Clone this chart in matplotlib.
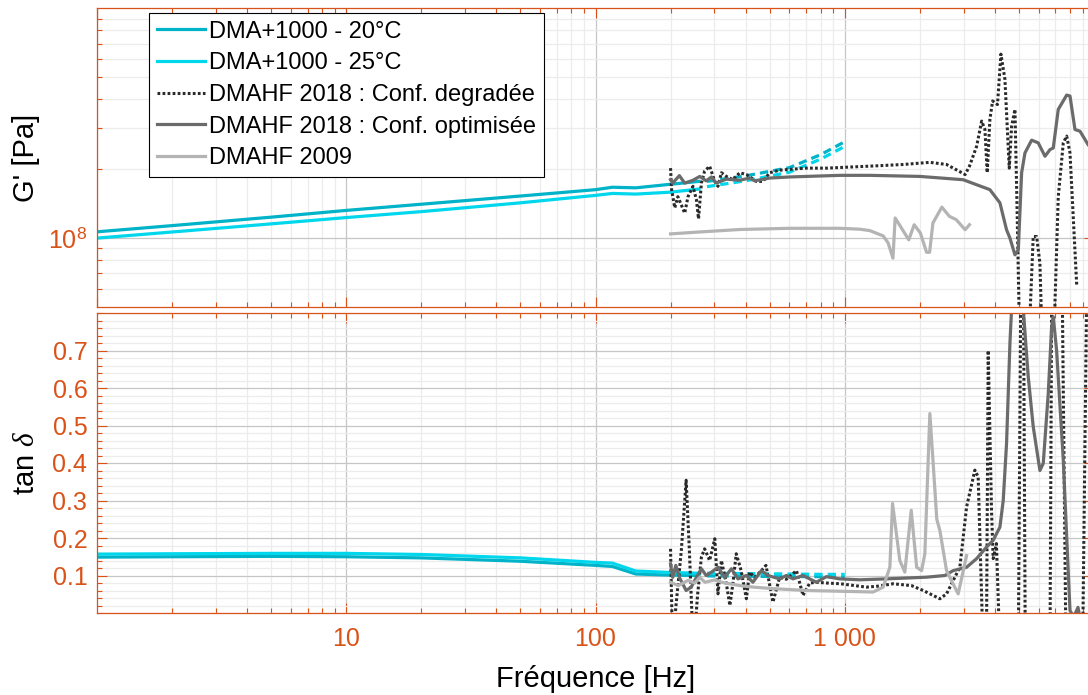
import numpy as np
import matplotlib
matplotlib.use("Agg")
import matplotlib.pyplot as plt
from matplotlib.ticker import FixedLocator, LogLocator, MultipleLocator, NullFormatter

plt.rcParams['font.family'] = ['Liberation Sans', 'DejaVu Sans']
plt.rcParams['mathtext.fontset'] = 'custom'
plt.rcParams['mathtext.rm'] = 'Liberation Sans'
plt.rcParams['mathtext.it'] = 'Liberation Serif:italic'

ORANGE = '#D95319'
C20 = '#00B3C9'
C25 = '#00D7EC'
C_DEG = '#2a2a2a'
C_OPT = '#6b6b6b'
C_09 = '#b4b4b4'

# ---------------- data ----------------
# DMA+1000, measured part
f_dma = [1, 2, 5, 10, 20, 50, 100, 117, 145, 200, 260]
g_dma20 = [1.062e8, 1.13e8, 1.23e8, 1.316e8, 1.40e8, 1.52e8, 1.62e8, 1.66e8, 1.65e8, 1.71e8, 1.76e8]
g_dma25 = [0.997e8, 1.06e8, 1.15e8, 1.225e8, 1.30e8, 1.42e8, 1.53e8, 1.56e8, 1.55e8, 1.58e8, 1.63e8]
tan_dma20 = [0.149, 0.150, 0.151, 0.150, 0.147, 0.138, 0.127, 0.124, 0.104, 0.101, 0.100]
tan_dma25 = [0.157, 0.158, 0.159, 0.159, 0.156, 0.147, 0.135, 0.133, 0.112, 0.108, 0.106]

# DMA+1000, extrapolated (dashed)
f_ext = [280, 400, 600, 800, 1000]
g_ext20 = [1.76e8, 1.86e8, 2.02e8, 2.30e8, 2.62e8]
g_ext25 = [1.67e8, 1.77e8, 1.93e8, 2.20e8, 2.50e8]
tan_ext20 = [0.099, 0.098, 0.097, 0.097, 0.096]
tan_ext25 = [0.106, 0.105, 0.104, 0.103, 0.103]

# DMAHF 2018 : Conf. degradee
f_deg_g = [200, 202, 208, 214, 221, 228, 235, 246, 254, 259, 266, 274, 287, 301, 310, 320,
           335, 356, 379, 403, 442, 470, 500, 548, 698, 844, 1380, 1714, 2195, 2561, 3040,
           3165, 3381, 3542, 3651, 3729, 3822, 3920, 4100, 4232, 4391, 4571, 4672, 4818,
           4920, 5047, 5447, 5704, 5888, 6067, 6223, 6864, 7188, 7530, 7770, 8011, 8523]
g_deg = [2.01e8, 1.62e8, 1.35e8, 1.51e8, 1.39e8, 1.28e8, 1.51e8, 1.675e8, 1.465e8, 1.21e8,
         1.73e8, 1.95e8, 2.05e8, 1.76e8, 1.675e8, 1.92e8, 1.85e8, 1.79e8, 1.92e8, 1.885e8,
         1.76e8, 1.76e8, 1.92e8, 1.97e8, 2.01e8, 2.01e8, 2.06e8, 2.085e8, 2.13e8, 2.085e8,
         1.885e8, 2.05e8, 2.5e8, 3.22e8, 2.96e8, 1.92e8, 3.28e8, 3.94e8, 3.8e8, 6.3e8,
         4.9e8, 2.01e8, 3.06e8, 3.62e8, 1.24e8, 3e7, 3e7, 1.013e8, 1.013e8, 0.775e8, 3e7,
         3e7, 1.51e8, 2.59e8, 2.77e8, 2.34e8, 0.623e8]
f_deg_t = [200, 204, 210, 221, 231, 238, 247, 257, 266, 274, 287, 301, 310, 320, 335, 346,
           356, 367, 384, 403, 415, 435, 463, 483, 515, 548, 583, 640, 680, 724, 769, 844,
           960, 1222, 1380, 1563, 1854, 2064, 2407, 2561, 2896, 3082, 3327, 3430, 3592,
           3709, 3763, 3880, 3940, 4060, 4193, 4969, 5100, 5200, 5300, 6659, 6780, 7420,
           7720, 9000, 9400]
t_deg = [0.171, -0.1, 0.015, 0.167, 0.354, 0.167, -0.1, 0.051, 0.149, 0.171, 0.140, 0.198,
         0.051, 0.140, 0.078, 0.020, 0.080, 0.158, 0.113, 0.038, 0.109, 0.095, 0.113, 0.127,
         0.029, 0.095, 0.090, 0.113, 0.047, 0.080, 0.082, 0.080, 0.078, 0.069, 0.072, 0.078,
         0.073, 0.060, 0.038, 0.051, 0.122, 0.283, 0.381, 0.363, -0.1, 0.0, 0.70, 0.274,
         0.145, 0.185, -0.1, -0.1, 1.0, 1.0, -0.1, -0.1, 1.0, 1.0, -0.1, -0.1, 1.0]

# DMAHF 2018 : Conf. optimisee
f_opt_g = [200, 204, 217, 228, 246, 262, 278, 292, 305, 335, 379, 415, 435, 500, 600, 960,
           1260, 2000, 2985, 3822, 4193, 4458, 4600, 4818, 4969, 5124, 5284, 5620, 5974,
           6358, 6659, 6864, 7188, 7770, 8011, 8388, 8787, 9462]
g_opt = [1.79e8, 1.73e8, 1.865e8, 1.73e8, 1.78e8, 1.85e8, 1.77e8, 1.84e8, 1.73e8, 1.80e8,
         1.78e8, 1.82e8, 1.77e8, 1.82e8, 1.84e8, 1.87e8, 1.87e8, 1.85e8, 1.79e8, 1.62e8,
         1.42e8, 1.084e8, 0.997e8, 0.843e8, 0.886e8, 1.918e8, 2.34e8, 2.66e8, 2.59e8,
         2.264e8, 2.42e8, 2.46e8, 3.62e8, 4.18e8, 4.14e8, 2.96e8, 2.91e8, 2.547e8]
f_opt_t = [200, 204, 210, 217, 231, 242, 254, 266, 278, 292, 310, 330, 351, 373, 403, 428,
           463, 492, 548, 583, 620, 680, 769, 844, 955, 1149, 1471, 2128, 2521, 2723, 3082,
           3381, 3709, 3940, 4193, 4323, 4458, 4600, 4700, 4900, 5150, 5447, 5704, 6067,
           6258, 6554, 6762, 6864, 7080, 7530, 8011, 8300, 8626, 9000]
t_opt = [0.131, 0.095, 0.127, 0.095, 0.060, 0.069, 0.095, 0.118, 0.100, 0.109, 0.122, 0.095,
         0.118, 0.091, 0.100, 0.082, 0.113, 0.100, 0.091, 0.100, 0.091, 0.100, 0.082, 0.097,
         0.091, 0.0885, 0.091, 0.0955, 0.100, 0.113, 0.122, 0.145, 0.176, 0.194, 0.229,
         0.300, 0.452, 0.720, 0.85, 1.0, 0.85, 0.630, 0.497, 0.380, 0.399, 0.586, 0.764,
         0.790, 0.700, 0.407, 0.006, -0.01, 0.015, -0.05]

# DMAHF 2009
f_09_g = [200, 260, 380, 600, 960, 1150, 1260, 1425, 1493, 1561, 1593, 1807, 1899, 2011,
          2129, 2190, 2258, 2452, 2629, 2800, 3040, 3165]
g_09 = [1.04e8, 1.06e8, 1.087e8, 1.10e8, 1.10e8, 1.09e8, 1.075e8, 1.02e8, 0.95e8, 0.815e8,
        1.22e8, 0.98e8, 1.14e8, 1.05e8, 0.865e8, 0.865e8, 1.16e8, 1.36e8, 1.24e8, 1.20e8,
        1.085e8, 1.14e8]
f_09_t = [200, 215, 235, 250, 262, 275, 300, 330, 345, 380, 430, 515, 700, 960, 1300, 1426,
          1517, 1555, 1663, 1742, 1848, 1943, 2034, 2096, 2195, 2263, 2340, 2408, 2561,
          2851, 3082]
t_09 = [0.082, 0.073, 0.087, 0.080, 0.095, 0.082, 0.088, 0.080, 0.078, 0.073, 0.069, 0.065,
        0.060, 0.058, 0.056, 0.069, 0.122, 0.292, 0.140, 0.109, 0.274, 0.122, 0.113, 0.158,
        0.532, 0.400, 0.250, 0.220, 0.113, 0.051, 0.153]

labels = ['DMA+1000 - 20°C', 'DMA+1000 - 25°C', 'DMAHF 2018 : Conf. degradée',
          'DMAHF 2018 : Conf. optimisée', 'DMAHF 2009']

# ---------------- figure ----------------
fig = plt.figure(figsize=(10.88, 6.95), dpi=100)
ax1 = fig.add_axes([97 / 1088, 388 / 695, 997 / 1088, 299 / 695])
ax2 = fig.add_axes([97 / 1088, 82 / 695, 997 / 1088, 300 / 695])

lw = 2.3
dot = (0, (0.9, 0.75))
dash = (0, (2.6, 1.6))

ax1.plot(f_dma, g_dma20, color=C20, lw=lw, label=labels[0])
ax1.plot(f_dma, g_dma25, color=C25, lw=lw, label=labels[1])
ax1.plot(f_ext, g_ext20, color=C20, lw=lw, ls=dash)
ax1.plot(f_ext, g_ext25, color=C25, lw=lw, ls=dash)
ax1.plot(f_deg_g, g_deg, color=C_DEG, lw=2.2, ls=dot, label=labels[2])
ax1.plot(f_opt_g, g_opt, color=C_OPT, lw=lw, label=labels[3])
ax1.plot(f_09_g, g_09, color=C_09, lw=lw, label=labels[4])

ax2.plot(f_dma, tan_dma20, color=C20, lw=lw)
ax2.plot(f_dma, tan_dma25, color=C25, lw=lw)
ax2.plot(f_ext, tan_ext20, color=C20, lw=lw, ls=dash)
ax2.plot(f_ext, tan_ext25, color=C25, lw=lw, ls=dash)
ax2.plot(f_deg_t, t_deg, color=C_DEG, lw=2.2, ls=dot)
ax2.plot(f_opt_t, t_opt, color=C_OPT, lw=lw)
ax2.plot(f_09_t, t_09, color=C_09, lw=lw)

for ax in (ax1, ax2):
    ax.set_xscale('log')
    ax.set_xlim(1, 1e4)
    ax.xaxis.set_major_locator(FixedLocator([1, 10, 100, 1000, 10000]))
    ax.xaxis.set_minor_locator(LogLocator(base=10, subs=np.arange(2, 10), numticks=50))
    ax.xaxis.set_minor_formatter(NullFormatter())
    ax.set_axisbelow(True)
    ax.grid(True, which='major', color='#c6c6c6', lw=0.9)
    ax.grid(True, which='minor', color='#ececec', lw=0.9)
    ax.tick_params(which='both', direction='in', top=True, right=True,
                   color=ORANGE, labelcolor=ORANGE, labelsize=18, width=0.8)
    ax.tick_params(which='major', length=7)
    ax.tick_params(which='minor', length=3.5)
    ax.tick_params(axis='y', pad=7)
    ax.tick_params(axis='x', pad=10)
    for sp in ax.spines.values():
        sp.set_color(ORANGE)
        sp.set_linewidth(0.9)

# top: G'
ax1.set_yscale('log')
ax1.set_ylim(5e7, 1e9)
ax1.yaxis.set_major_locator(FixedLocator([1e8]))
ax1.yaxis.set_minor_locator(FixedLocator([6e7, 7e7, 8e7, 9e7] + [k * 1e8 for k in range(2, 10)]))
ax1.yaxis.set_minor_formatter(NullFormatter())
ax1.set_yticklabels(['$10^{8}$'])
ax1.tick_params(axis='x', labelbottom=False)
ax1.set_ylabel("G' [Pa]", fontsize=21)
ax1.yaxis.set_label_coords(-0.057, 0.5)

# bottom: tan delta
ax2.set_ylim(0, 0.8)
ax2.yaxis.set_major_locator(FixedLocator([0.1, 0.2, 0.3, 0.4, 0.5, 0.6, 0.7]))
ax2.yaxis.set_minor_locator(MultipleLocator(0.02))
ax2.set_yticklabels(['0.1', '0.2', '0.3', '0.4', '0.5', '0.6', '0.7'])
ax2.set_xticks([10, 100, 1000])
ax2.set_xticklabels(['10', '100', '1 000'])
ax2.set_ylabel('tan $\\delta$', fontsize=21)
ax2.yaxis.set_label_coords(-0.057, 0.5)
ax2.set_xlabel('Fréquence [Hz]', fontsize=21)
ax2.xaxis.set_label_coords(0.5, -0.172)

leg = ax1.legend(loc='upper left', bbox_to_anchor=(0.0525, 0.9823), borderaxespad=0,
                 fontsize=17, handlelength=2.06, handletextpad=0.17, borderpad=0.31,
                 labelspacing=0.41, fancybox=False, framealpha=1, edgecolor='black')
leg.get_frame().set_linewidth(0.8)

fig.savefig('out.png', dpi=100)
